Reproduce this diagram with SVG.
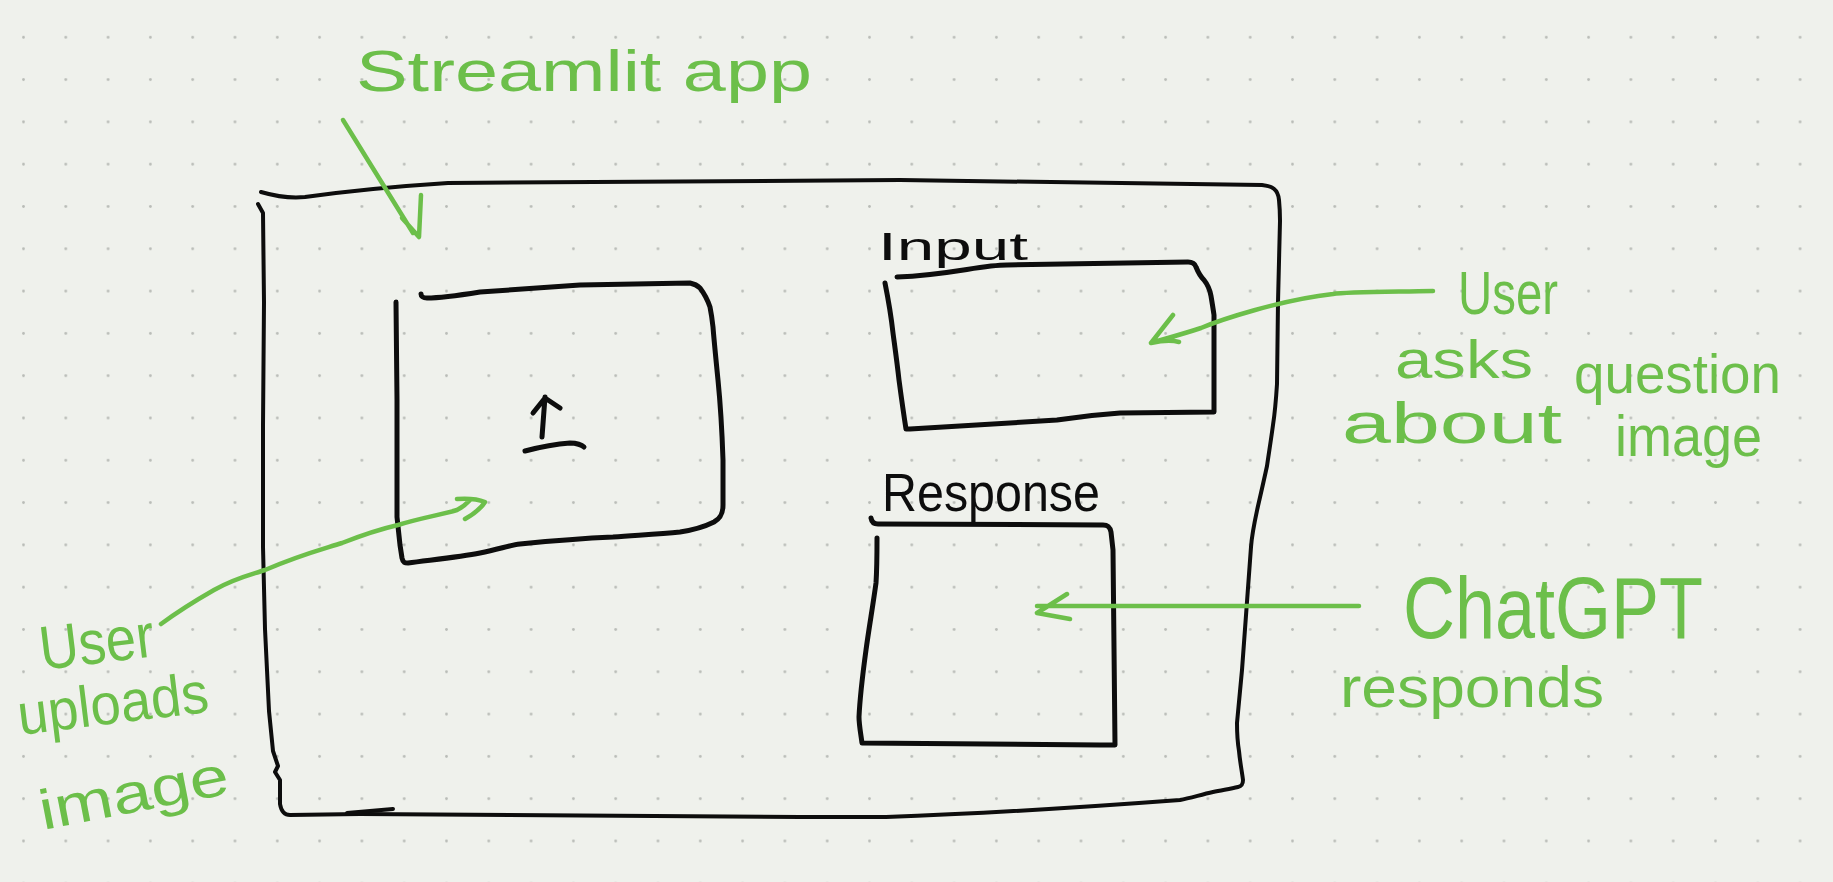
<svg xmlns="http://www.w3.org/2000/svg" width="1833" height="882" viewBox="0 0 1833 882">
<style>
.ink{fill:none;stroke:#0d0d0d;stroke-linecap:round;stroke-linejoin:round}
.g{fill:none;stroke:#6cbf4a;stroke-width:4.5;stroke-linecap:round;stroke-linejoin:round}
.gt{fill:#6cbf4a;font-family:"Liberation Sans","DejaVu Sans",sans-serif}
.bt{fill:#0d0d0d;font-family:"Liberation Sans","DejaVu Sans",sans-serif}
</style>
<defs>
<pattern id="dots" patternUnits="userSpaceOnUse" x="2.35" y="16.15" width="42.3" height="42.3">
<circle cx="21.15" cy="21.15" r="1.4" fill="#b9bcb7"/>
</pattern>
</defs>
<rect width="1833" height="882" fill="#eff1ec"/>
<rect width="1833" height="882" fill="url(#dots)"/>

<g id="streamlit-app">
<path class="ink" stroke-width="4" d="M261,192 Q285,199 305,197 Q370,188 448,183 L900,180 L1262,185 C1272,186 1278,189 1279,200 C1280,210 1280,215 1280,221 L1278,302 L1277,384 C1276,400 1275,412 1273,425 C1271,440 1269,452 1267,466 C1264,480 1261,493 1258,506 C1255,520 1252,533 1251,547 C1250,560 1249,575 1248,588 L1242,670 L1237,723 C1237,735 1238,745 1239,751 C1240,762 1242,772 1243,780 C1243,784 1242,786 1238,787 C1230,789 1222,790 1213,792 C1200,795 1190,798 1180,800 C1100,806 1000,813 886,817 L800,817 L360,814 L290,815 C284,815 281,810 280,804 L280,780 L275,772 L278,766 L273,751 L269,711 L265,629 L263,547 L263,425 L264,302 L263,213 L258,204"/>
<path class="ink" stroke-width="4" d="M347,813 L393,809"/>
</g>

<g id="upload-box">
<path class="ink" stroke-width="5" d="M396,302 L397,400 L397,517 L400,545 L402,558 C403,563 405,563 408,563 C430,560 460,557 480,553 C500,549 510,545 520,544 C560,540 590,538 613,537 C640,535 660,534 680,532 C700,529 708,525 714,522 C721,518 723,513 723,505 C723,490 723,475 723,460 C722,430 720,400 718,380 C716,360 714,340 713,327 C712,318 711,312 710,307 C707,298 703,292 700,288 C697,285 695,284 690,283 L580,285 L480,292 C455,296 440,298 427,298 C423,298 421,296 421,294"/>
<path class="ink" stroke-width="5" d="M542,437 L545,397 M533,413 L545,398 L560,408 M525,451 C540,447 555,444 570,443 C576,443 582,445 584,447"/>
</g>

<g id="input">
<text class="bt" x="878" y="260" font-size="38" textLength="150" lengthAdjust="spacingAndGlyphs">Input</text>
<path class="ink" stroke-width="5" d="M897,277 C950,275 980,265 1007,265 L1188,262 C1193,262 1195,264 1196,267 C1198,272 1200,276 1204,280 C1208,285 1210,290 1211,296 C1212,302 1213,308 1214,315 L1214,412 L1120,413 C1090,415 1070,418 1057,420 L910,429 L906,429 C903,410 901,395 899,380 C897,362 895,348 893,333 C891,315 888,298 885,283"/>
</g>

<g id="response">
<text class="bt" x="882" y="511" font-size="54" textLength="218" lengthAdjust="spacingAndGlyphs">Response</text>
<path class="ink" stroke-width="5" d="M871,518 Q872,524 878,524 L1103,525 C1108,525 1110,527 1111,532 L1113,550 L1115,745 L1100,745 L862,743 C861,735 859,725 859,717 C860,695 863,672 866,650 C869,628 873,605 876,583 C877,568 877,553 877,538"/>
</g>

<g id="labels">
<text class="gt" x="356" y="91" font-size="58" textLength="456" lengthAdjust="spacingAndGlyphs">Streamlit app</text>
<text class="gt" x="1458" y="314" font-size="62" textLength="100" lengthAdjust="spacingAndGlyphs">User</text>
<text class="gt" x="1395" y="378" font-size="54" textLength="138" lengthAdjust="spacingAndGlyphs">asks</text>
<text class="gt" x="1574" y="393" font-size="56" textLength="207" lengthAdjust="spacingAndGlyphs">question</text>
<text class="gt" x="1342" y="443" font-size="58" textLength="220" lengthAdjust="spacingAndGlyphs">about</text>
<text class="gt" x="1615" y="456" font-size="58" textLength="147" lengthAdjust="spacingAndGlyphs">image</text>
<text class="gt" x="1403" y="638" font-size="88" textLength="300" lengthAdjust="spacingAndGlyphs">ChatGPT</text>
<text class="gt" x="1340" y="707" font-size="58" textLength="264" lengthAdjust="spacingAndGlyphs">responds</text>
<text class="gt" x="42" y="670" font-size="62" textLength="115" lengthAdjust="spacingAndGlyphs" transform="rotate(-7 42 670)">User</text>
<text class="gt" x="20" y="735" font-size="58" textLength="192" lengthAdjust="spacingAndGlyphs" transform="rotate(-7 20 735)">uploads</text>
<text class="gt" x="43" y="830" font-size="56" textLength="192" lengthAdjust="spacingAndGlyphs" transform="rotate(-11 43 830)">image</text>
</g>

<g id="connectors">
<path class="g" d="M343,120 L413,233 M402,218 L419,237 L421,195"/>
<path class="g" d="M1433,291 C1380,292 1345,292 1333,294 C1280,300 1220,320 1201,328 C1180,335 1160,340 1151,343 M1173,315 L1151,343 C1160,341 1172,340 1179,342"/>
<path class="g" d="M1359,606 L1037,606 M1067,594 L1037,613 L1070,619"/>
<path class="g" d="M161,624 C180,610 200,598 214,590 C235,578 250,575 265,570 C300,555 320,550 342,543 C370,532 385,528 398,525 C420,518 440,515 457,510 C465,506 468,502 470,500 M457,499 C470,498 480,500 485,502 C480,510 472,515 465,519"/>
</g>
</svg>
